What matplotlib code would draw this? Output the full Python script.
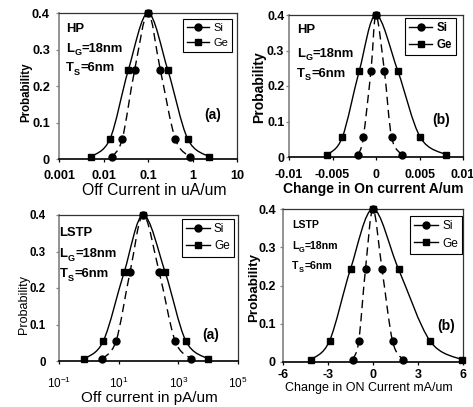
import numpy as np
import matplotlib
matplotlib.use("Agg")
import matplotlib.pyplot as plt
from matplotlib.path import Path
from matplotlib.patches import PathPatch
from matplotlib.lines import Line2D
from matplotlib.ticker import NullLocator
from matplotlib.transforms import IdentityTransform

plt.rcParams["font.family"] = ["Liberation Sans", "DejaVu Sans"]
plt.rcParams["mathtext.fontset"] = "custom"
plt.rcParams["mathtext.rm"] = "Liberation Sans"
plt.rcParams["mathtext.it"] = "Liberation Sans:italic"
plt.rcParams["mathtext.bf"] = "Liberation Sans:bold"
plt.rcParams["mathtext.default"] = "regular"

# probability levels shared by every distribution
PROB = [0.006, 0.055, 0.243, 0.4, 0.243, 0.055, 0.006]

# (a) HP: off current, uA/um
HP_OFF_SI = [0.0154, 0.0264, 0.050, 0.1, 0.19, 0.41, 0.875]
HP_OFF_GE = [0.0052, 0.014, 0.036, 0.1, 0.28, 0.78, 2.35]
# (b) HP: change in on current, A/um
HP_ON_SI = [-0.00204, -0.00146, -0.00058, 0.0, 0.00096, 0.0018, 0.0030]
HP_ON_GE = [-0.00562, -0.00388, -0.00192, 0.0, 0.0025, 0.0051, 0.0081]
# (a) LSTP: off current, pA/um
LSTP_OFF_SI = [2.8, 8.2, 24, 67, 229, 780, 2700]
LSTP_OFF_GE = [0.71, 3.07, 15.2, 67, 363, 1780, 9600]
# (b) LSTP: change in ON current, mA/um
LSTP_ON_SI = [-1.35, -0.95, -0.5, 0.0, 0.6, 1.3, 2.0]
LSTP_ON_GE = [-4.15, -2.9, -1.5, 0.0, 1.7, 3.8, 5.9]

Y_TICKS = [0, 0.1, 0.2, 0.3, 0.4]
Y_TICKLABELS = ["0", "0.1", "0.2", "0.3", "0.4"]

W, H = 473, 407
FAM = ["Liberation Sans"]

fig = plt.figure(figsize=(W / 100, H / 100), dpi=100)
renderer = fig.canvas.get_renderer()


def make_axes(l, t, r, b):
    ax = fig.add_axes([l / W, 1 - b / H, (r - l) / W, (b - t) / H])
    ax._px = (l, t, r, b)
    return ax


def to_ax(ax, x, y):
    l, t, r, b = ax._px
    return (x - l) / (r - l), (b - y) / (b - t)


def smooth_curve(ax, xs, ys, logx, dashed):
    # Excel-style smoothed line (Catmull-Rom as cubic Bezier) through the points
    u = np.log10(xs) if logx else np.asarray(xs, float)
    pts = np.column_stack([u, np.asarray(ys, float)])
    ext = np.vstack([pts[0], pts, pts[-1]])
    verts = [pts[0]]
    codes = [Path.MOVETO]
    for i in range(1, len(ext) - 2):
        p0, p1, p2, p3 = ext[i - 1], ext[i], ext[i + 1], ext[i + 2]
        verts += [p1 + (p2 - p0) / 6, p2 - (p3 - p1) / 6, p2]
        codes += [Path.CURVE4] * 3
    verts = np.array(verts)
    if logx:
        verts[:, 0] = 10 ** verts[:, 0]
    ls = (0, (6, 3.5)) if dashed else "-"
    ax.add_patch(PathPatch(Path(verts, codes), fill=False, edgecolor="black",
                           lw=1.0, linestyle=ls, zorder=2))


def style_axes(ax):
    ax.set_ylim(0, 0.4)
    ax.set_yticks(Y_TICKS)
    ax.spines["left"].set_color("#808080")
    ax.spines["left"].set_linewidth(1.2)
    ax.spines["bottom"].set_color("black")
    ax.spines["bottom"].set_linewidth(1.2)
    for s in ("top", "right"):
        ax.spines[s].set_color("#333333")
        ax.spines[s].set_linewidth(0.9)
    ax.xaxis.set_minor_locator(NullLocator())
    ax.tick_params(axis="y", direction="out", length=2.2, width=0.9, color="#808080")
    ax.tick_params(axis="x", direction="out", length=2.2, width=0.9, color="black")


def draw_panel(ax, si, ge, logx):
    smooth_curve(ax, si, PROB, logx, True)
    smooth_curve(ax, ge, PROB, logx, False)
    ax.plot(si, PROB, linestyle="none", marker="o", ms=5, color="black",
            clip_on=False, zorder=3)
    ax.plot(ge, PROB, linestyle="none", marker="s", ms=5, color="black",
            clip_on=False, zorder=3)


def add_legend(ax, x, y, fontsize, weight):
    handles = [Line2D([], [], color="black", lw=1.0, marker="o", ms=5),
               Line2D([], [], color="black", lw=1.0, marker="s", ms=5)]
    leg = ax.legend(handles, ["Si", "Ge"], loc="upper left",
                    bbox_to_anchor=to_ax(ax, x, y), frameon=True, fancybox=False,
                    edgecolor="black", framealpha=1, handlelength=2.0,
                    handletextpad=0.35, borderpad=0.35, labelspacing=0.45,
                    borderaxespad=0,
                    prop={"size": fontsize, "weight": weight, "family": FAM})
    leg.get_frame().set_linewidth(0.8)


def note_line(x, y, main, sub, rest, size):
    # "L_G=18nm" style label placed in figure pixels (y from the top)
    px = size * 100 / 72
    base = H - y - 0.36 * px
    cx = x
    for s, fs, dy in ((main, size, 0.0), (sub, size * 0.7, -0.28 * px), (rest, size, 0.0)):
        if not s:
            continue
        t = fig.text(cx, base + dy, s, transform=IdentityTransform(), fontsize=fs,
                     fontweight="bold", family=FAM, ha="left", va="baseline")
        cx += t.get_window_extent(renderer).width + 0.4


def add_notes(x, ys, head, size):
    note_line(x, ys[0], head, "", "", size)
    note_line(x, ys[1], "L", "G", "=18nm", size)
    note_line(x, ys[2], "T", "S", "=6nm", size)


# ---- (a) HP off current
ax1 = make_axes(59, 13, 237, 159)
style_axes(ax1)
ax1.set_xscale("log")
ax1.set_xlim(0.001, 10)
ax1.xaxis.set_minor_locator(NullLocator())
draw_panel(ax1, HP_OFF_SI, HP_OFF_GE, True)
ax1.set_xticks([0.001, 0.01, 0.1, 1, 10])
ax1.set_xticklabels(["0.001", "0.01", "0.1", "1", "10"], fontsize=9.2, fontweight="bold")
ax1.set_yticklabels(Y_TICKLABELS, fontsize=9.2, fontweight="bold")
ax1.tick_params(axis="x", pad=5.8)
ax1.tick_params(axis="y", pad=4.3)
ax1.set_xlabel("Off Current in uA/um", fontsize=11.3, va="center")
ax1.xaxis.set_label_coords(*to_ax(ax1, 154, 190))
ax1.set_ylabel("Probability", fontsize=8.3, fontweight="bold", va="center")
ax1.yaxis.set_label_coords(*to_ax(ax1, 26.5, 92))
add_legend(ax1, 183, 19, 8, "normal")
add_notes(66, [27.5, 47, 66.5], "HP", 9.4)
ax1.text(*to_ax(ax1, 213, 115), "(a)", transform=ax1.transAxes, ha="center",
         va="center", fontsize=10, fontweight="bold")

# ---- (b) HP change in on current
ax2 = make_axes(289, 15, 463, 157)
style_axes(ax2)
ax2.set_xlim(-0.01, 0.01)
draw_panel(ax2, HP_ON_SI, HP_ON_GE, False)
ax2.set_xticks([-0.01, -0.005, 0, 0.005, 0.01])
ax2.set_xticklabels(["-0.01", "-0.005", "0", "0.005", "0.01"], fontsize=8.9,
                    fontweight="bold")
ax2.set_yticklabels(Y_TICKLABELS, fontsize=8.9, fontweight="bold")
ax2.tick_params(axis="x", pad=6.6)
ax2.tick_params(axis="y", pad=1.2)
ax2.set_xlabel("Change in On current A/um", fontsize=10, fontweight="bold", va="center")
ax2.xaxis.set_label_coords(*to_ax(ax2, 373, 189))
ax2.set_ylabel("Probability", fontsize=10, fontweight="bold", va="center")
ax2.yaxis.set_label_coords(*to_ax(ax2, 259.5, 87))
add_legend(ax2, 405, 18, 8.3, "bold")
add_notes(297, [28, 52, 72], "HP", 9.4)
ax2.text(*to_ax(ax2, 441, 120), "(b)", transform=ax2.transAxes, ha="center",
         va="center", fontsize=10, fontweight="bold")

# ---- (a) LSTP off current
ax3 = make_axes(59, 215, 238, 361)
style_axes(ax3)
ax3.set_xscale("log")
ax3.set_xlim(0.1, 1e5)
ax3.xaxis.set_minor_locator(NullLocator())
draw_panel(ax3, LSTP_OFF_SI, LSTP_OFF_GE, True)
ax3.set_xticks([0.1, 10, 1000, 1e5])
ax3.set_xticklabels(["10$^{-1}$", "10$^{1}$", "10$^{3}$", "10$^{5}$"], fontsize=8.5)
ax3.set_yticklabels(Y_TICKLABELS, fontsize=8.3, fontweight="bold")
ax3.tick_params(axis="x", pad=8.8)
ax3.tick_params(axis="y", pad=7.4)
ax3.set_xlabel("Off current in pA/um", fontsize=11, va="center")
ax3.xaxis.set_label_coords(*to_ax(ax3, 149, 398.3))
ax3.set_ylabel("Probability", fontsize=9, va="center")
ax3.yaxis.set_label_coords(*to_ax(ax3, 24, 305))
add_legend(ax3, 182, 219, 8.5, "normal")
add_notes(59.5, [231, 252.5, 272.5], "LSTP", 9.4)
ax3.text(*to_ax(ax3, 211, 335), "(a)", transform=ax3.transAxes, ha="center",
         va="center", fontsize=10, fontweight="bold")

# ---- (b) LSTP change in ON current
ax4 = make_axes(283, 209, 463, 362)
style_axes(ax4)
ax4.set_xlim(-6, 6)
draw_panel(ax4, LSTP_ON_SI, LSTP_ON_GE, False)
ax4.set_xticks([-6, -3, 0, 3, 6])
ax4.set_xticklabels(["-6", "-3", "0", "3", "6"], fontsize=9, fontweight="bold")
ax4.set_yticklabels(Y_TICKLABELS, fontsize=9, fontweight="bold")
ax4.tick_params(axis="x", pad=2.5)
ax4.tick_params(axis="y", pad=2.9)
ax4.set_xlabel("Change in ON Current mA/um", fontsize=9, va="center")
ax4.xaxis.set_label_coords(*to_ax(ax4, 369, 388))
ax4.set_ylabel("Probability", fontsize=9.6, fontweight="bold", va="center")
ax4.yaxis.set_label_coords(*to_ax(ax4, 254, 288))
add_legend(ax4, 410, 216, 8.6, "normal")
add_notes(292, [224, 245, 265], "LSTP", 7.6)
ax4.text(*to_ax(ax4, 446, 326), "(b)", transform=ax4.transAxes, ha="center",
         va="center", fontsize=10, fontweight="bold")

fig.savefig("out.png", dpi=100)
